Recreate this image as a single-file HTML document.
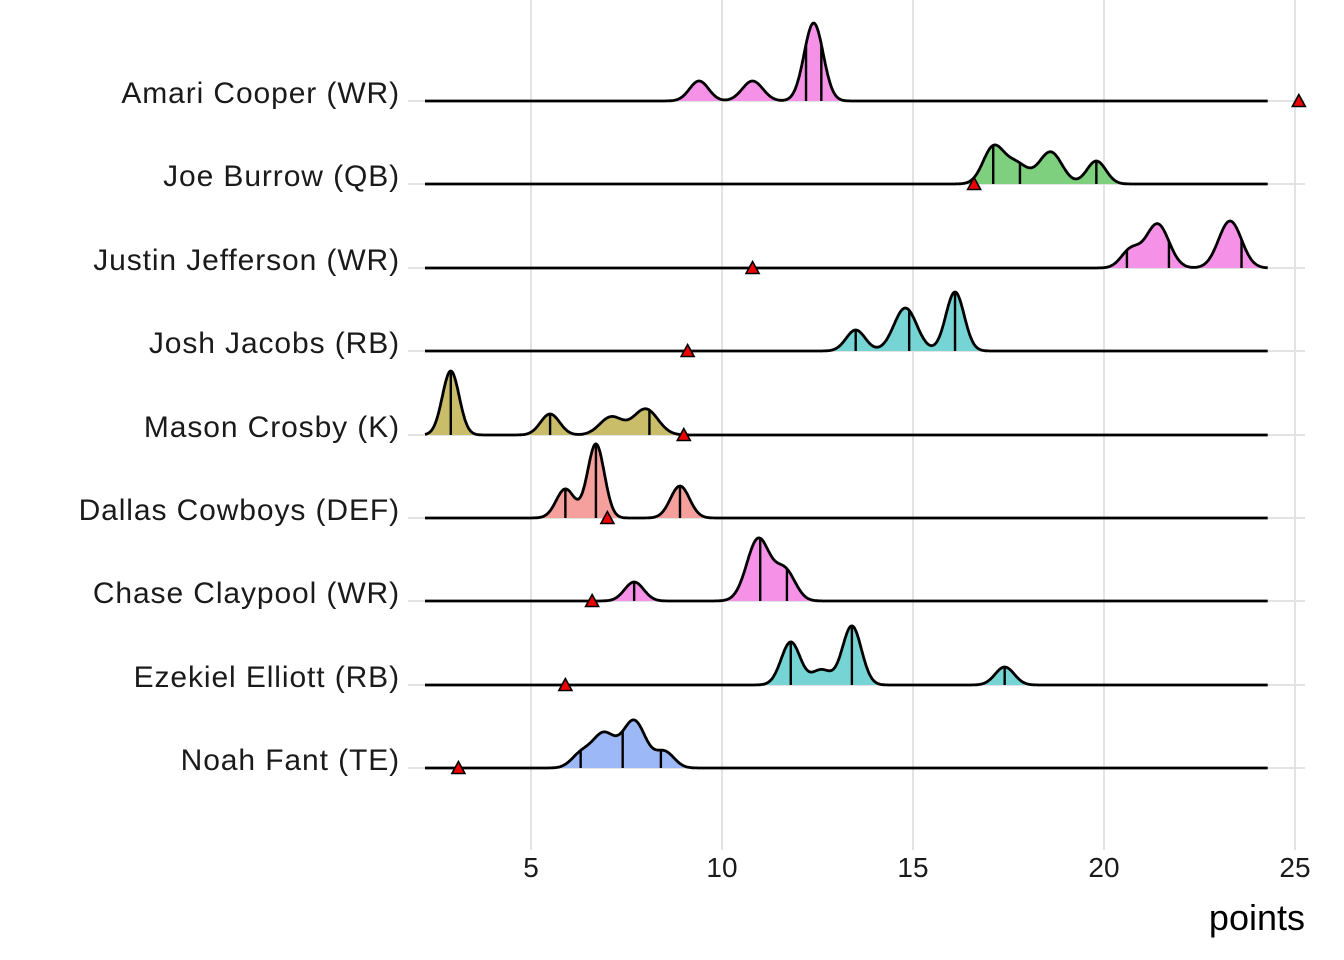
<!DOCTYPE html>
<html><head><meta charset="utf-8"><style>
body{margin:0;background:#fff}
svg{display:block;font-family:"Liberation Sans",Arial,sans-serif}
</style></head><body>
<svg id="s" width="1344" height="960" viewBox="0 0 1344 960"></svg>
<script>
const s=document.getElementById('s');
const X=v=>531+(v-5)*38.2;
let h='';
[5,10,15,20,25].forEach(v=>{h+=`<line x1="${X(v)}" y1="0" x2="${X(v)}" y2="850" stroke="#e3e3e3" stroke-width="2"/>`;
h+=`<text x="${X(v)}" y="877" font-size="28" text-anchor="middle" fill="#1a1a1a">${v}</text>`;});
const rows=[
["Amari Cooper (WR)",101,"#F592E8",[[9.4,20,.25],[10.8,20,.27],[12.4,78,.25]],[12.2,12.6],25.1],
["Joe Burrow (QB)",184,"#7ED07E",[[17.1,36,.27],[17.7,20,.3],[18.6,32,.3],[19.8,23,.25]],[17.1,17.8,19.8],16.6],
["Justin Jefferson (WR)",268,"#F592E8",[[20.7,18,.25],[21.4,44,.3],[23.3,47,.3]],[20.6,21.7,23.6],10.8],
["Josh Jacobs (RB)",351,"#76D4D4",[[13.5,21,.25],[14.8,43,.3],[16.1,59,.24]],[13.5,14.9,16.1],9.1],
["Mason Crosby (K)",435,"#C9BD6A",[[2.9,64,.22],[5.5,21,.25],[7.1,18,.3],[8.0,26,.32]],[2.9,5.5,8.1],9.0],
["Dallas Cowboys (DEF)",518,"#F5A09C",[[5.9,29,.24],[6.7,74,.22],[8.9,32,.25]],[5.9,6.7,8.9],7.0],
["Chase Claypool (WR)",601,"#F592E8",[[7.7,19,.25],[10.95,62,.3],[11.65,30,.27]],[7.7,11.0,11.7],6.6],
["Ezekiel Elliott (RB)",685,"#76D4D4",[[11.8,43,.25],[12.6,15,.25],[13.4,59,.25],[17.4,18,.25]],[11.8,13.4,17.4],5.9],
["Noah Fant (TE)",768,"#9DB8F7",[[6.3,13,.25],[6.9,34,.3],[7.7,47,.3],[8.5,16,.25]],[6.3,7.4,8.4],3.1]];
rows.forEach(([name,y,col,pk,q,tri])=>{
 h+=`<line x1="408" y1="${y}" x2="1305" y2="${y}" stroke="#e3e3e3" stroke-width="2"/>`;
 const d=v=>pk.reduce((a,[m,ht,sd])=>a+ht*Math.exp(-0.5*((v-m)/sd)**2),0);
 let p='';const v0=(425-531)/38.2+5,v1=(1268-531)/38.2+5;
 for(let v=v0;v<=v1+1e-9;v+=0.02){p+=(p?'L':'M')+X(v).toFixed(1)+','+(y-d(v)).toFixed(1);}
 h+=`<path d="${p}L${X(v1)},${y}L${X(v0)},${y}Z" fill="${col}" stroke="none"/>`;
 q.forEach(v=>{h+=`<line x1="${X(v)}" y1="${y}" x2="${X(v)}" y2="${y-d(v)}" stroke="#000" stroke-width="2.4"/>`;});
 h+=`<path d="${p}" fill="none" stroke="#000" stroke-width="2.8" stroke-linejoin="round"/>`;
 const tx=X(tri);h+=`<polygon points="${tx-6.5},${y+5.5} ${tx+6.5},${y+5.5} ${tx},${y-6.5}" fill="#e00" stroke="#000" stroke-width="1.6"/>`;
 h+=`<text x="400" y="${y+2}" font-size="30" text-anchor="end" fill="#1a1a1a" textLength="${name.length*0}" >${name}</text>`.replace(' textLength="0" ',' style="letter-spacing:0.9px" ');
});
h+=`<text x="1305" y="930" font-size="36" text-anchor="end" fill="#000">points</text>`;
s.innerHTML=h;
</script>
</body></html>
